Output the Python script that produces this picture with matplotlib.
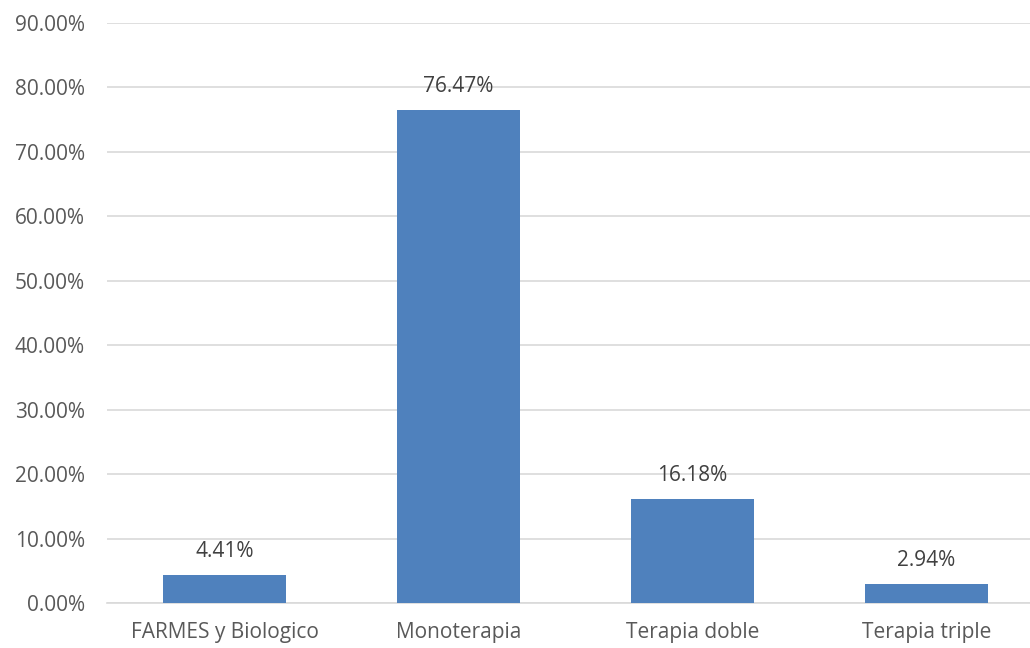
import matplotlib.pyplot as plt
from matplotlib.ticker import FuncFormatter

categories = ['FARMES y Biologico', 'Monoterapia', 'Terapia doble', 'Terapia triple']
values = [4.41, 76.47, 16.18, 2.94]

plt.rcParams['font.family'] = ['Open Sans', 'DejaVu Sans']

fig = plt.figure(figsize=(10.3, 6.48), dpi=100)
ax = fig.add_axes([0.104, 0.0694, 0.896, 0.8951])

x = range(len(categories))
bars = ax.bar(x, values, width=0.526, color='#4F81BD', zorder=3)

for b, v in zip(bars, values):
    ax.text(b.get_x() + b.get_width() / 2, v + 2.0, f'{v:.2f}%',
            ha='center', va='bottom', fontsize=15, color='#404040')

ax.set_xlim(-0.502, 3.442)
ax.set_ylim(0, 90)
ax.set_yticks(range(0, 91, 10))
ax.yaxis.set_major_formatter(FuncFormatter(lambda v, p: f'{v:.2f}%'))
ax.set_xticks(list(x))
ax.set_xticklabels(categories)
ax.tick_params(axis='both', length=0, labelsize=15, colors='#595959')
ax.tick_params(axis='y', pad=16)
ax.tick_params(axis='x', pad=14)

ax.grid(axis='y', color='#D9D9D9', linewidth=1.2, zorder=0)
for s in ['top', 'right', 'left']:
    ax.spines[s].set_visible(False)
ax.spines['bottom'].set_color('#D9D9D9')
ax.spines['bottom'].set_linewidth(1.2)

fig.savefig('out.png', dpi=100)
